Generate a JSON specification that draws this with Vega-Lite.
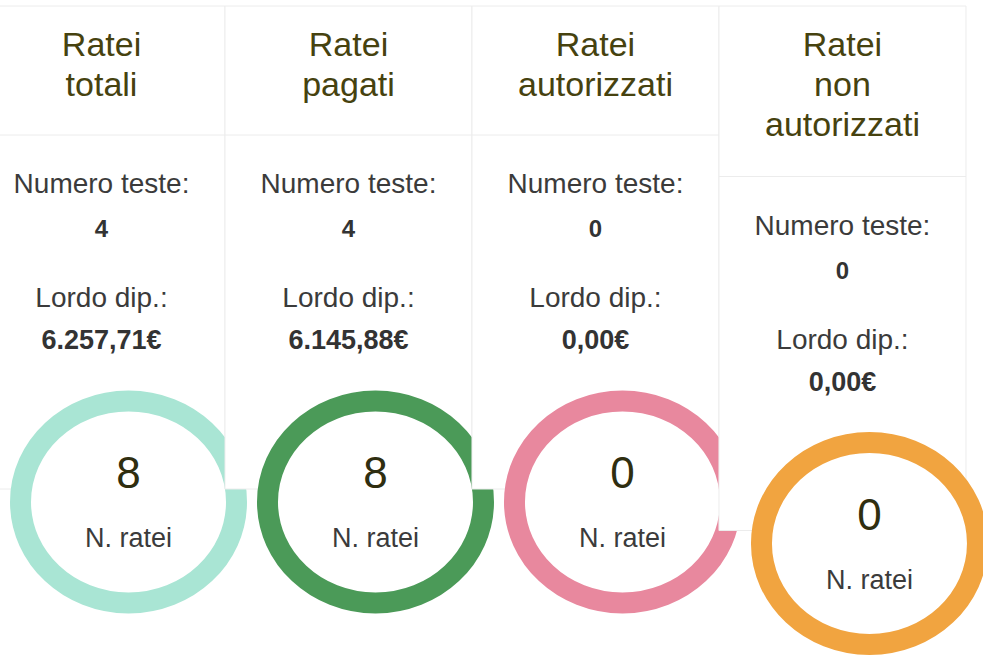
{
  "$schema": "https://vega.github.io/schema/vega-lite/v6.json",
  "width": 983,
  "height": 657,
  "autosize": "none",
  "padding": 0,
  "background": "#ffffff",
  "config": {
    "view": {"stroke": null},
    "font": "Arial",
    "text": {"font": "Arial"},
    "locale": {
      "number": {"decimal": ",", "thousands": ".", "grouping": [3], "currency": ["", "€"]}
    }
  },
  "data": {
    "values": [
      {"col": 1, "card": "Ratei totali", "titolo": "Ratei\ntotali", "righe": 2, "teste": 4, "lordo": 6257.71, "nratei": 8},
      {"col": 2, "card": "Ratei pagati", "titolo": "Ratei\npagati", "righe": 2, "teste": 4, "lordo": 6145.88, "nratei": 8},
      {"col": 3, "card": "Ratei autorizzati", "titolo": "Ratei\nautorizzati", "righe": 2, "teste": 0, "lordo": 0, "nratei": 0},
      {"col": 4, "card": "Ratei non autorizzati", "titolo": "Ratei\nnon\nautorizzati", "righe": 3, "teste": 0, "lordo": 0, "nratei": 0}
    ]
  },
  "encoding": {
    "x": {"field": "col", "type": "quantitative", "axis": null,
          "scale": {"domain": [0.589, 4.569], "nice": false, "zero": false}},
    "y": {"field": "righe", "type": "quantitative", "axis": null,
          "scale": {"domain": [2, 17.831], "nice": false, "zero": false, "reverse": true}}
  },
  "layer": [
    {"transform": [{"filter": "datum.col == 1"}],
     "mark": {"type": "rect", "fill": "#ffffff", "stroke": "#ececec", "strokeWidth": 1, "xOffset": -123.5, "x2Offset": 123.5, "yOffset": 6, "y2Offset": 489},
     "encoding": {"x2": {"field": "col"}, "y": {"datum": 2}, "y2": {"field": "righe"}}},
    {"transform": [{"filter": "datum.col == 1"}],
     "mark": {"type": "point", "filled": true, "fill": "#ffffff", "strokeWidth": 21, "opacity": 1, "xOffset": 27, "yOffset": 502, "size": 46656,
              "shape": "M -1 0 A 1 0.935 0 1 0 1 0 A 1 0.935 0 1 0 -1 0 Z"},
     "encoding": {"stroke": {"field": "card", "type": "nominal", "legend": null,
        "scale": {"domain": ["Ratei totali", "Ratei pagati", "Ratei autorizzati", "Ratei non autorizzati"], "range": ["#a9e5d4", "#4b9a58", "#e8889e", "#f1a440"]}}}},
    {"transform": [{"filter": "datum.col == 2"}],
     "mark": {"type": "rect", "fill": "#ffffff", "stroke": "#ececec", "strokeWidth": 1, "xOffset": -123.5, "x2Offset": 123.5, "yOffset": 6, "y2Offset": 489},
     "encoding": {"x2": {"field": "col"}, "y": {"datum": 2}, "y2": {"field": "righe"}}},
    {"transform": [{"filter": "datum.col == 2"}],
     "mark": {"type": "point", "filled": true, "fill": "#ffffff", "strokeWidth": 21, "opacity": 1, "xOffset": 27, "yOffset": 502, "size": 46656,
              "shape": "M -1 0 A 1 0.935 0 1 0 1 0 A 1 0.935 0 1 0 -1 0 Z"},
     "encoding": {"stroke": {"field": "card", "type": "nominal", "legend": null}}},
    {"transform": [{"filter": "datum.col == 3"}],
     "mark": {"type": "rect", "fill": "#ffffff", "stroke": "#ececec", "strokeWidth": 1, "xOffset": -123.5, "x2Offset": 123.5, "yOffset": 6, "y2Offset": 489},
     "encoding": {"x2": {"field": "col"}, "y": {"datum": 2}, "y2": {"field": "righe"}}},
    {"transform": [{"filter": "datum.col == 3"}],
     "mark": {"type": "point", "filled": true, "fill": "#ffffff", "strokeWidth": 21, "opacity": 1, "xOffset": 27, "yOffset": 502, "size": 46656,
              "shape": "M -1 0 A 1 0.935 0 1 0 1 0 A 1 0.935 0 1 0 -1 0 Z"},
     "encoding": {"stroke": {"field": "card", "type": "nominal", "legend": null}}},
    {"transform": [{"filter": "datum.col == 4"}],
     "mark": {"type": "rect", "fill": "#ffffff", "stroke": "#ececec", "strokeWidth": 1, "xOffset": -123.5, "x2Offset": 123.5, "yOffset": 6, "y2Offset": 489},
     "encoding": {"x2": {"field": "col"}, "y": {"datum": 2}, "y2": {"field": "righe"}}},
    {"transform": [{"filter": "datum.col == 4"}],
     "mark": {"type": "point", "filled": true, "fill": "#ffffff", "strokeWidth": 21, "opacity": 1, "xOffset": 27, "yOffset": 502, "size": 46656,
              "shape": "M -1 0 A 1 0.935 0 1 0 1 0 A 1 0.935 0 1 0 -1 0 Z"},
     "encoding": {"stroke": {"field": "card", "type": "nominal", "legend": null}}},
    {"mark": {"type": "rule", "stroke": "#ececec", "strokeWidth": 1, "xOffset": -123.5, "x2Offset": 123.5, "yOffset": 135},
     "encoding": {"x2": {"field": "col"}}},
    {"mark": {"type": "text", "font": "Arial", "align": "center", "baseline": "alphabetic", "fontSize": 34, "lineHeight": 40, "lineBreak": "\n", "color": "#46420f", "yOffset": 56},
     "encoding": {"y": {"datum": 2}, "text": {"field": "titolo", "type": "nominal"}}},
    {"mark": {"type": "text", "font": "Arial", "align": "center", "baseline": "alphabetic", "fontSize": 28, "color": "#3b3b3b", "yOffset": 193, "text": "Numero teste:"},
     "encoding": {}},
    {"mark": {"type": "text", "font": "Arial", "align": "center", "baseline": "alphabetic", "fontSize": 24, "fontWeight": "bold", "color": "#333333", "yOffset": 237},
     "encoding": {"text": {"field": "teste", "type": "quantitative"}}},
    {"mark": {"type": "text", "font": "Arial", "align": "center", "baseline": "alphabetic", "fontSize": 28, "color": "#3b3b3b", "yOffset": 307, "text": "Lordo dip.:"},
     "encoding": {}},
    {"mark": {"type": "text", "font": "Arial", "align": "center", "baseline": "alphabetic", "fontSize": 27, "fontWeight": "bold", "color": "#333333", "yOffset": 349},
     "encoding": {"text": {"field": "lordo", "type": "quantitative", "format": "$,.2f"}}},
    {"mark": {"type": "text", "font": "Arial", "align": "center", "baseline": "alphabetic", "fontSize": 44, "color": "#2f2e10", "xOffset": 27, "yOffset": 488},
     "encoding": {"text": {"field": "nratei", "type": "quantitative"}}},
    {"mark": {"type": "text", "font": "Arial", "align": "center", "baseline": "alphabetic", "fontSize": 27, "color": "#3b3b3b", "xOffset": 27, "yOffset": 547, "text": "N. ratei"},
     "encoding": {}}
  ]
}
